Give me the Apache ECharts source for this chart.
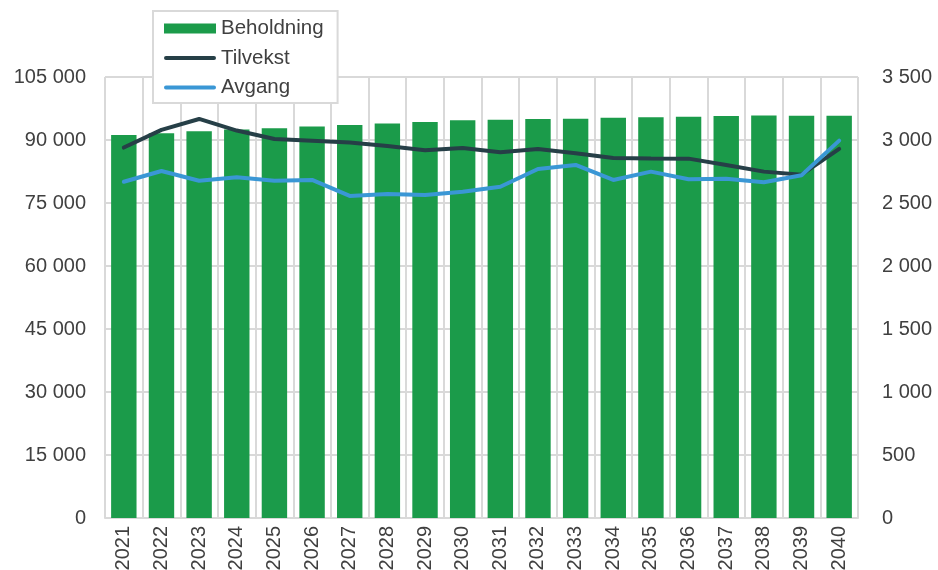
<!DOCTYPE html>
<html><head><meta charset="utf-8">
<script src="https://cdn.jsdelivr.net/npm/echarts@6/dist/echarts.min.js"></script>
<style>html,body{margin:0;padding:0;background:#fff}#c{width:938px;height:570px}</style>
</head><body><div id="c"></div>
<script>
const years = ['2021','2022','2023','2024','2025','2026','2027','2028','2029','2030','2031','2032','2033','2034','2035','2036','2037','2038','2039','2040'];
const beholdning = [91200,91600,92100,92500,92800,93200,93550,93900,94300,94700,94850,95000,95080,95300,95400,95550,95700,95850,95800,95800];
const tilvekst = [2940,3080,3167,3075,3008,2995,2980,2952,2918,2937,2902,2929,2894,2857,2854,2852,2802,2749,2725,2929];
const avgang = [2669,2754,2677,2704,2677,2683,2556,2571,2563,2590,2629,2770,2802,2683,2749,2688,2693,2664,2720,2995];
const fmt = v => String(v).replace(/\B(?=(\d{3})+(?!\d))/g, ' ');
const font = 'Liberation Sans, Arial, sans-serif';
const lineIcon = 'path://M0,0L0.01,0M0,10L0.01,10M2,3L50,3A2,2,0,0,1,50,7L2,7A2,2,0,0,1,2,3Z';
const chart = echarts.init(document.getElementById('c'), null, {renderer:'canvas'});
chart.setOption({
  animation:false,
  backgroundColor:'#fff',
  textStyle:{fontFamily:font},
  grid:{left:105,right:80,top:77,bottom:52,outerBoundsMode:'none',containLabel:false},
  legend:{
    orient:'vertical', left:153, top:11,
    backgroundColor:'#fff', borderColor:'#d9d9d9', borderWidth:2,
    padding:[7,14,5,11], itemGap:8.5, itemWidth:52, itemHeight:10,
    textStyle:{fontSize:20.5,color:'#404040',fontFamily:font},
    data:[{name:'Beholdning',icon:'rect'},{name:'Tilvekst',icon:lineIcon},{name:'Avgang',icon:lineIcon}]
  },
  xAxis:{
    type:'category', data:years,
    axisLine:{lineStyle:{color:'#d9d9d9',width:2}},
    axisTick:{show:false},
    splitLine:{show:true,lineStyle:{color:'#d9d9d9',width:2}},
    axisLabel:{rotate:90,fontSize:20,color:'#404040',margin:8,fontFamily:font}
  },
  yAxis:[{
    type:'value', min:0, max:105000, interval:15000,
    axisLine:{show:false}, axisTick:{show:false},
    splitLine:{lineStyle:{color:'#d9d9d9',width:2}},
    axisLabel:{fontSize:20,color:'#404040',margin:19,formatter:fmt,fontFamily:font}
  },{
    type:'value', min:0, max:3500, interval:500,
    axisLine:{show:false}, axisTick:{show:false},
    splitLine:{show:false},
    axisLabel:{fontSize:20,color:'#404040',margin:24,formatter:fmt,fontFamily:font}
  }],
  series:[{
    name:'Beholdning', type:'bar', data:beholdning, yAxisIndex:0,
    barCategoryGap:'32.5%', itemStyle:{color:'#1b9b4a'}
  },{
    name:'Tilvekst', type:'line', data:tilvekst, yAxisIndex:1,
    symbol:'none', lineStyle:{color:'#263f47',width:4,cap:'round'}, itemStyle:{color:'#263f47'}
  },{
    name:'Avgang', type:'line', data:avgang, yAxisIndex:1,
    symbol:'none', lineStyle:{color:'#3a97d5',width:4,cap:'round'}, itemStyle:{color:'#3a97d5'}
  }]
});
</script></body></html>
